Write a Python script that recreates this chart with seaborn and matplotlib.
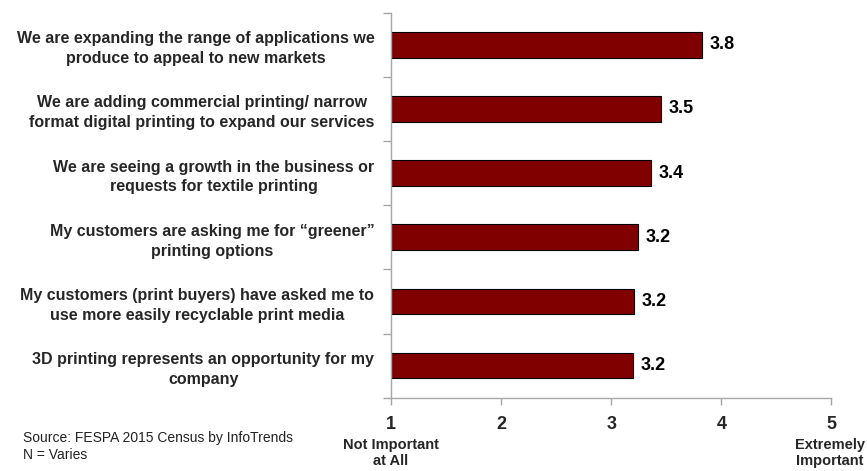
import matplotlib
matplotlib.use("Agg")
import matplotlib.pyplot as plt
import seaborn as sns
import pandas as pd
import numpy as np

categories = [
    "We are expanding the range of applications we\nproduce to appeal to new markets",
    "We are adding commercial printing/ narrow\nformat digital printing to expand our services",
    "We are seeing a growth in the business or\nrequests for textile printing",
    "My customers are asking me for \u201cgreener\u201d\nprinting options",
    "My customers (print buyers) have asked me to\nuse more easily recyclable print media",
    "3D printing represents an opportunity for my\ncompany",
]
scores = [3.82, 3.45, 3.36, 3.24, 3.21, 3.20]
x_ticks = [1, 2, 3, 4, 5]
end_labels = ["Not Important\nat All", "Extremely\nImportant"]
source_note = "Source: FESPA 2015 Census by InfoTrends\nN = Varies"

sns.set_theme(style="white")
plt.rcParams["font.family"] = ["Liberation Sans", "DejaVu Sans"]

df = pd.DataFrame({"item": categories, "score": scores})

fig = plt.figure(figsize=(8.67, 4.71), dpi=100)
ax = fig.add_axes([0.451, 0.1556, 0.508, 0.8174])

sns.barplot(data=df, x="score", y="item", orient="h", color="#800000",
            saturation=1, width=0.4, edgecolor="black", linewidth=0.8, ax=ax)

# bars start at the scale minimum of 1
for patch, val in zip(ax.patches, scores):
    patch.set_x(1)
    patch.set_width(val - 1)

ax.set_xlim(1, 5)
ax.set_ylim(len(categories) - 0.5, -0.5)
ax.set_xlabel("")
ax.set_ylabel("")

grey = "#a6a6a6"
for side in ["top", "right"]:
    ax.spines[side].set_visible(False)
for side in ["left", "bottom"]:
    ax.spines[side].set_color(grey)
    ax.spines[side].set_linewidth(1.0)

ax.set_xticks(x_ticks)
ax.set_xticklabels([str(t) for t in x_ticks], fontsize=13, fontweight="bold")
ax.tick_params(axis="x", which="major", bottom=True, length=5, color=grey,
               width=1, pad=8)

ax.set_yticks(range(len(categories)))
ax.set_yticklabels(categories, fontsize=11.5, fontweight="bold",
                   ha="right", multialignment="center", linespacing=1.4)
ax.tick_params(axis="y", which="major", left=False, length=0, pad=12)
ax.set_yticks(np.arange(-0.5, len(categories) + 0.5, 1), minor=True)
ax.tick_params(axis="y", which="minor", left=True, length=6, color=grey, width=1)

for i, val in enumerate(scores):
    ax.text(val + 0.07, i, f"{val:.1f}", va="center", ha="left",
            fontsize=13, fontweight="bold", color="black")

ax.text(1, -0.105, end_labels[0], transform=ax.get_xaxis_transform(),
        ha="center", va="top", fontsize=10.5, fontweight="bold",
        multialignment="center", linespacing=1.2)
ax.text(4.985, -0.105, end_labels[1], transform=ax.get_xaxis_transform(),
        ha="center", va="top", fontsize=10.5, fontweight="bold",
        multialignment="center", linespacing=1.2)

fig.text(0.026, 0.052, source_note, ha="left", va="center", fontsize=10,
         color="#222222", linespacing=1.3)

fig.savefig("out.png", dpi=100)
